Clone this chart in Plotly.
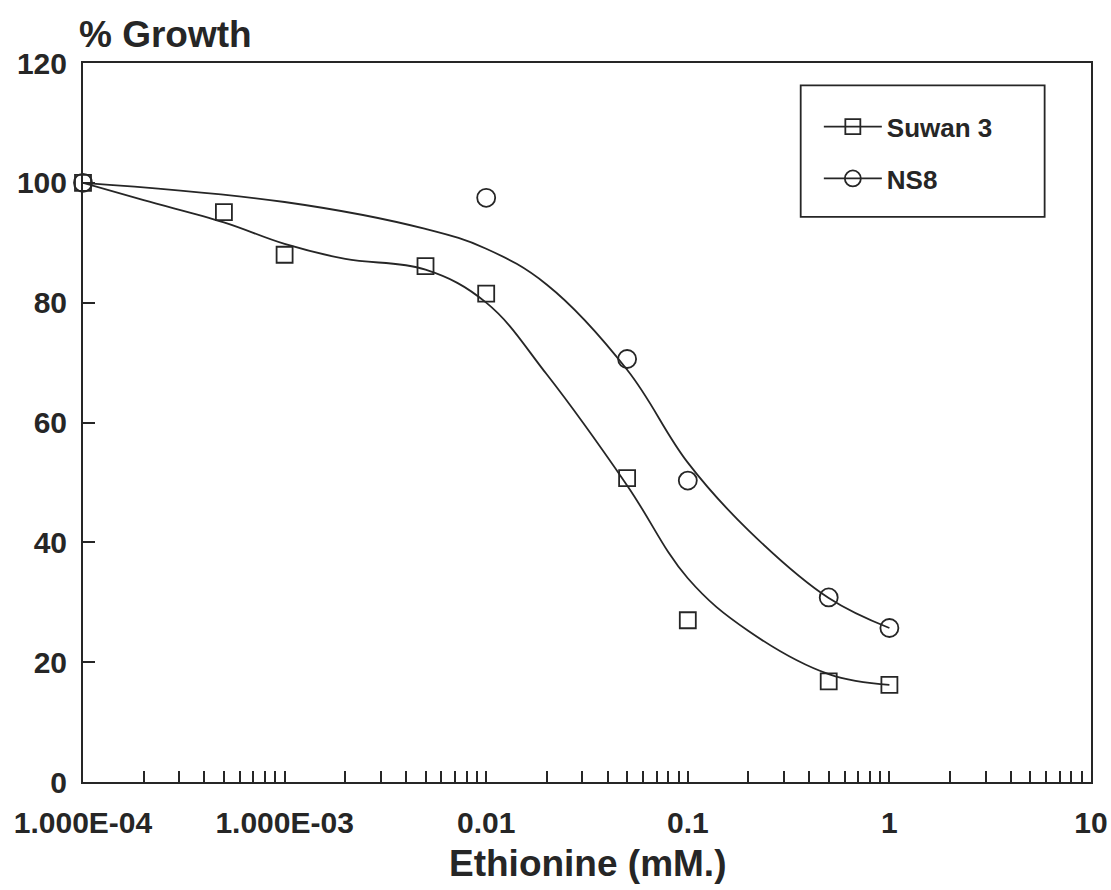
import plotly.graph_objects as go

# ---- data ----
conc = [1e-4, 5e-4, 1e-3, 5e-3, 0.01, 0.05, 0.1, 0.5, 1]
suwan_growth = [100, 95.1, 88.0, 86.1, 81.5, 50.7, 27.0, 16.8, 16.2]

ns8_conc = [1e-4, 0.01, 0.05, 0.1, 0.5, 1]
ns8_growth = [100, 97.5, 70.6, 50.3, 30.8, 25.7]

# fitted curves
suwan_fit_conc = [1e-4, 2e-4, 5e-4, 1e-3, 2e-3, 5e-3, 0.01, 0.02, 0.05, 0.1, 0.2, 0.5, 1]
suwan_fit = [100, 97.1, 93.4, 89.8, 87.3, 85.5, 80.0, 68.0, 49.5, 34.0, 25.2, 18.0, 16.2]

ns8_fit_conc = [1e-4, 1e-3, 5e-3, 0.01, 0.02, 0.05, 0.1, 0.2, 0.5, 1]
ns8_fit = [100, 96.8, 92.3, 89.0, 83.0, 68.8, 53.3, 42.0, 30.7, 25.7]

x_tickvals = [1e-4, 1e-3, 0.01, 0.1, 1, 10]
x_ticktext = ["1.000E-04", "1.000E-03", "0.01", "0.1", "1", "10"]
y_tickvals = [0, 20, 40, 60, 80, 100, 120]

minor_vals = [m * 10.0 ** e for e in range(-4, 1) for m in range(2, 10)]

INK = "#262626"
FONT = "Liberation Sans"

fig = go.Figure()

# fitted curves
fig.add_trace(go.Scatter(x=suwan_fit_conc, y=suwan_fit, mode="lines",
                         line=dict(color=INK, width=1.8, shape="spline", smoothing=1.1),
                         showlegend=False, hoverinfo="skip"))
fig.add_trace(go.Scatter(x=ns8_fit_conc, y=ns8_fit, mode="lines",
                         line=dict(color=INK, width=1.8, shape="spline", smoothing=1.1),
                         showlegend=False, hoverinfo="skip"))

# data markers
fig.add_trace(go.Scatter(x=conc, y=suwan_growth, mode="markers",
                         marker=dict(symbol="square-open", size=16, color=INK,
                                     line=dict(width=1.8, color=INK)),
                         showlegend=False, cliponaxis=False))
fig.add_trace(go.Scatter(x=ns8_conc, y=ns8_growth, mode="markers",
                         marker=dict(symbol="circle-open", size=18, color=INK,
                                     line=dict(width=1.8, color=INK)),
                         showlegend=False, cliponaxis=False))

# legend entries (line + marker symbol)
fig.add_trace(go.Scatter(x=[None], y=[None], mode="lines+markers", name="Suwan 3",
                         legendgroup="a",
                         line=dict(color=INK, width=1.8),
                         marker=dict(symbol="square-open", size=15, color=INK,
                                     line=dict(width=1.8, color=INK))))
fig.add_trace(go.Scatter(x=[None], y=[None], mode="lines+markers", name="NS8",
                         legendgroup="b",
                         line=dict(color=INK, width=1.8),
                         marker=dict(symbol="circle-open", size=16, color=INK,
                                     line=dict(width=1.8, color=INK))))

fig.update_layout(
    width=1111, height=890, autosize=False,
    margin=dict(l=83, r=20, t=63, b=108, autoexpand=False),
    paper_bgcolor="white", plot_bgcolor="white",
    font=dict(family=FONT, size=30, color=INK),
    showlegend=True,
    legend=dict(x=0.730, y=0.944, xanchor="left", yanchor="top",
                bgcolor="rgba(0,0,0,0)", borderwidth=0,
                font=dict(family=FONT, size=26, color=INK, weight="bold"),
                tracegroupgap=15, itemwidth=58),
    shapes=[dict(type="rect", xref="paper", yref="paper",
                 x0=0.712, x1=0.954, y0=0.786, y1=0.969,
                 line=dict(color=INK, width=1.8))],
    annotations=[
        dict(text="% Growth", xref="paper", yref="paper", x=-0.006, y=1.04,
             xanchor="left", yanchor="middle", showarrow=False,
             font=dict(family=FONT, size=37, color=INK, weight="bold")),
        dict(text="Ethionine (mM.)", xref="paper", yref="paper", x=0.5, y=-0.114,
             xanchor="center", yanchor="middle", showarrow=False,
             font=dict(family=FONT, size=37, color=INK, weight="bold")),
    ],
)

fig.update_xaxes(type="log", range=[-4, 1], automargin=False,
                 tickmode="array", tickvals=x_tickvals, ticktext=x_ticktext,
                 ticks="inside", ticklen=11, tickwidth=1.5, tickcolor=INK,
                 minor=dict(tickmode="array", tickvals=minor_vals, ticks="inside",
                            ticklen=11, tickwidth=1.5, tickcolor=INK, showgrid=False),
                 showline=True, linewidth=2, linecolor=INK, mirror=True,
                 showgrid=False, zeroline=False,
                 tickfont=dict(family=FONT, size=30, color=INK, weight="bold"),
                 ticklabelstandoff=13)
fig.update_yaxes(range=[0, 120], automargin=False,
                 tickmode="array", tickvals=y_tickvals,
                 ticks="inside", ticklen=12, tickwidth=1.5, tickcolor=INK,
                 showline=True, linewidth=2, linecolor=INK, mirror=True,
                 showgrid=False, zeroline=False,
                 tickfont=dict(family=FONT, size=30, color=INK, weight="bold"),
                 ticklabelstandoff=8)

fig.write_html("out.html")
